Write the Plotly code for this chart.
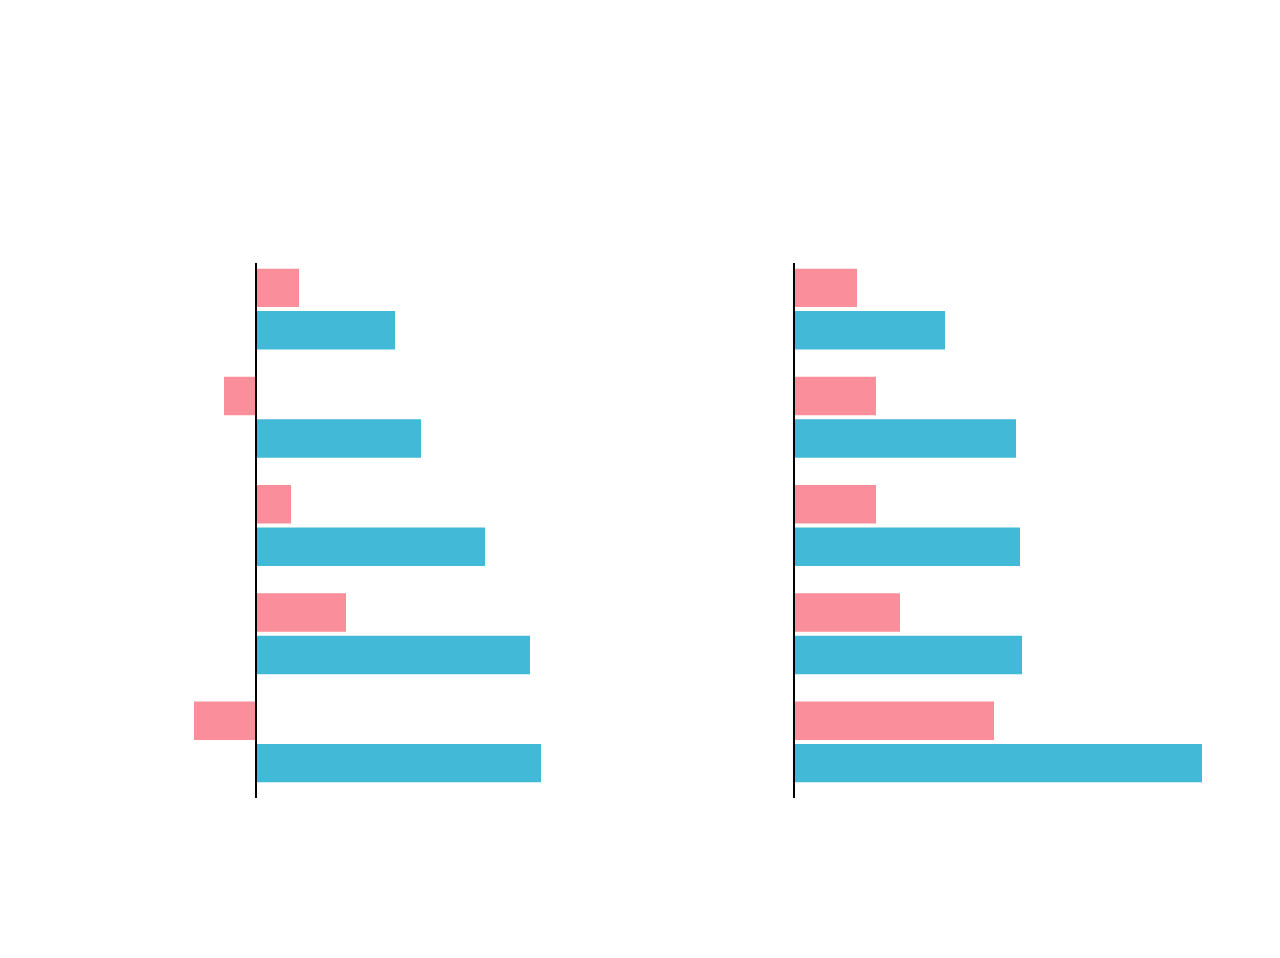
import plotly.graph_objects as go
from plotly.subplots import make_subplots

categories = ["A", "B", "C", "D", "E"]
left_pink = [43, -32, 35, 90, -62]
left_blue = [139, 165, 229, 274, 285]
right_pink = [63, 82, 82, 106, 200]
right_blue = [151, 222, 226, 228, 408]

PINK = "#FA8E9B"
BLUE = "#42B9D6"

fig = make_subplots(rows=1, cols=2, shared_yaxes=False)

for col, (pv, bv) in enumerate([(left_pink, left_blue), (right_pink, right_blue)], start=1):
    fig.add_trace(go.Bar(y=categories, x=pv, orientation="h", marker=dict(color=PINK, line=dict(width=0)),
                         showlegend=False, hoverinfo="x"), row=1, col=col)
    fig.add_trace(go.Bar(y=categories, x=bv, orientation="h", marker=dict(color=BLUE, line=dict(width=0)),
                         showlegend=False, hoverinfo="x"), row=1, col=col)

W, H = 1280, 958
OFF = 8  # page body margin
# target pixel layout in the screenshot, converted to figure coords
plot_top, plot_bot = 255 - OFF, 796 - OFF
lx0, lx1 = 150 - OFF, 620 - OFF
rx0, rx1 = 700 - OFF, 1202 - OFF
lzero = 256 - OFF
rzero = 794 - OFF
line_top, line_bot = 263 - OFF, 798 - OFF

fig.update_layout(
    width=W, height=H,
    margin=dict(l=0, r=0, t=0, b=0),
    paper_bgcolor="white", plot_bgcolor="white",
    barmode="group", bargap=0.215, bargroupgap=0.094,
    xaxis=dict(domain=[lx0 / W, lx1 / W], range=[lx0 - lzero, lx1 - lzero], visible=False, fixedrange=True),
    xaxis2=dict(domain=[rx0 / W, rx1 / W], range=[rx0 - rzero, rx1 - rzero], visible=False, fixedrange=True),
    yaxis=dict(domain=[1 - plot_bot / H, 1 - plot_top / H], autorange="reversed", visible=False),
    yaxis2=dict(domain=[1 - plot_bot / H, 1 - plot_top / H], autorange="reversed", visible=False),
)

for xref, yref in [("x", "y domain"), ("x2", "y2 domain")]:
    fig.add_shape(type="line", xref=xref, yref=yref, x0=0, x1=0,
                  y0=(plot_bot - line_bot) / (plot_bot - plot_top),
                  y1=(plot_bot - line_top) / (plot_bot - plot_top),
                  line=dict(color="black", width=2), layer="above")

fig.write_html("out.html")
